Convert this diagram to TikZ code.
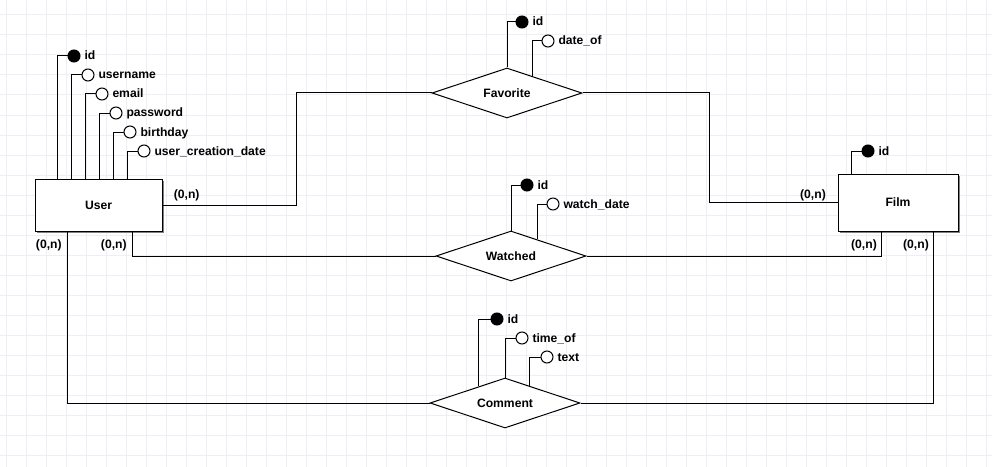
\documentclass[tikz,border=0pt]{standalone}
\usepackage{fontspec}
\setmainfont{Liberation Sans}
\usetikzlibrary{shapes.geometric,shadows,calc}
\definecolor{gridcol}{RGB}{234,240,246}

\begin{document}
\begin{tikzpicture}[x=0.75pt,y=-0.75pt,line width=0.75pt,
  every node/.style={font=\bfseries\fontsize{9.1}{11}\selectfont},
  entity/.style={draw,fill=white,inner sep=0pt,drop shadow={shadow xshift=1.5pt,shadow yshift=-1.5pt,fill=gray,opacity=1}},
  relation/.style={draw,diamond,fill=white,aspect=3,minimum width=112.5pt,minimum height=37.5pt,inner sep=0pt},
  attr/.style={draw,circle,fill=white,minimum size=9pt,inner sep=0pt},
  keyattr/.style={attr,fill=black},
  lbl/.style={anchor=base west,inner sep=0pt}]
\useasboundingbox (0,0) rectangle (992,467);
\draw [gridcol,step=15pt,shift={(6,15)}] (-6,-15) grid (986,452);

\node[entity,minimum width=95.25pt,minimum height=39pt] (User) at (98.5,205) {User};
\node[entity,minimum width=90pt,minimum height=42.75pt] (Film) at (898,202.5) {Film};
\node[relation] (fav) at (507,93) {Favorite};
\node[relation] (wat) at (511,256) {Watched};
\node[relation] (com) at (505,403) {Comment};

\node[keyattr] (uid) at (74,56) {};
\node[lbl] (uidl) at (84,60) {id};
\node[attr] (uname) at (88,75) {};
\node[lbl] (unamel) at (98,79) {username};
\node[attr] (umail) at (102,94) {};
\node[lbl] (umaill) at (112,98) {email};
\node[attr] (upass) at (116,113) {};
\node[lbl] (upassl) at (126,117) {password};
\node[attr] (ubirth) at (130,132) {};
\node[lbl] (ubirthl) at (140,136) {birthday};
\node[attr] (ucreat) at (144,151) {};
\node[lbl] (ucreatl) at (154,155) {user\_creation\_date};
\draw (User.north west) ++(23,0) |- (uid);
\draw (User.north west) ++(37,0) |- (uname);
\draw (User.north west) ++(51,0) |- (umail);
\draw (User.north west) ++(65,0) |- (upass);
\draw (User.north west) ++(79,0) |- (ubirth);
\draw (User.north west) ++(93,0) |- (ucreat);

\node[keyattr] (flid) at (868,151) {};
\node[lbl] (flidl) at (878,155) {id};
\draw (Film.north west) ++(14,0) |- (flid);

\node[keyattr] (fid) at (522,22) {};
\node[lbl] (fidl) at (532,26) {id};
\node[attr] (fdate) at (548,41) {};
\node[lbl] (fdatel) at (558,45) {date\_of};
\draw (fav.north) |- (fid);
\draw ($(fav.north)!0.333!(fav.east)$) |- (fdate);

\node[keyattr] (wid) at (527,185) {};
\node[lbl] (widl) at (537,189) {id};
\node[attr] (wdate) at (553,204) {};
\node[lbl] (wdatel) at (563,208) {watch\_date};
\draw (wat.north) |- (wid);
\draw ($(wat.north)!0.35!(wat.east)$) |- (wdate);

\node[keyattr] (cid) at (497,319) {};
\node[lbl] (cidl) at (507,323) {id};
\node[attr] (ctime) at (522,338) {};
\node[lbl] (ctimel) at (532,342) {time\_of};
\node[attr] (ctext) at (547,357) {};
\node[lbl] (ctextl) at (557,361) {text};
\draw ($(com.north)!0.35!(com.west)$) |- (cid);
\draw (com.north) |- (ctime);
\draw ($(com.north)!0.32!(com.east)$) |- (ctext);

\draw (User.east) -- ++(134,0) |- (fav.west);
\draw (fav.east) -- ++(127,0) |- (Film.west);
\draw (User.south west) ++(98,0) |- (wat.west);
\draw (Film.south west) ++(44,0) |- (wat.east);
\draw (User.south west) ++(33,0) |- (com.west);
\draw (Film.south west) ++(96,0) |- (com.east);

\node (ucf) at (186.7,195) {(0,n)};
\node (ucc) at (48.8,245) {(0,n)};
\node (ucw) at (113.8,245) {(0,n)};
\node (fcf) at (813,195) {(0,n)};
\node (fcw) at (864,245) {(0,n)};
\node (fcc) at (916,245) {(0,n)};
\end{tikzpicture}
\end{document}
